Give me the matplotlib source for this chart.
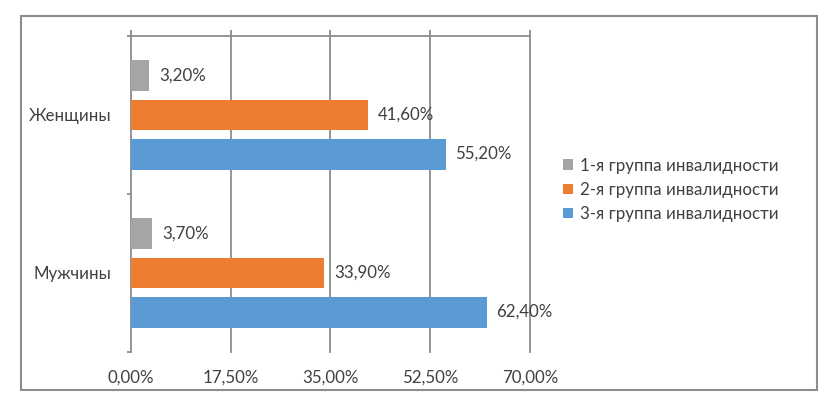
import matplotlib
matplotlib.use("Agg")
import matplotlib.pyplot as plt
from matplotlib.patches import Rectangle

categories = ["Мужчины", "Женщины"]
series_names = ["1-я группа инвалидности", "2-я группа инвалидности", "3-я группа инвалидности"]
group1 = [3.7, 3.2]
group2 = [33.9, 41.6]
group3 = [62.4, 55.2]
xticks = [0, 17.5, 35, 52.5, 70]

colours = ["#A5A5A5", "#ED7D31", "#5B9BD5"]
textcol = "#404040"
gridcol = "#8C8C8C"

plt.rcParams["font.family"] = ["Lato", "DejaVu Sans"]
plt.rcParams["font.size"] = 12.2

W, H = 828, 398
fig = plt.figure(figsize=(W / 100, H / 100), dpi=100)
ax = fig.add_axes([131 / W, 1 - 352 / H, (530 - 131) / W, (352 - 36) / H])

# outer border
fig.patches.append(Rectangle((21 / W, 1 - 390 / H), (817 - 21) / W, (390 - 16) / H,
                             transform=fig.transFigure, fill=False,
                             edgecolor="#8C8C8C", linewidth=1.5))

barh = 0.196
step = 0.247
offsets = [step, 0, -step]
ys = list(range(len(categories)))
for vals, off, col, name in zip([group1, group2, group3], offsets, colours, series_names):
    pos = [y + off for y in ys]
    ax.barh(pos, vals, height=barh, color=col, label=name, zorder=3)
    for y, v in zip(pos, vals):
        ax.annotate(f"{v:.2f}%".replace(".", ","), (v, y), xytext=(7, 0),
                    textcoords="offset points", va="center", ha="left", color=textcol)

ax.set_xlim(0, 70)
ax.set_ylim(-0.5, 1.5)

for x in xticks[1:]:
    ax.axvline(x, color=gridcol, linewidth=1.3, zorder=1, clip_on=False)

for s in ["right", "bottom"]:
    ax.spines[s].set_visible(False)
ax.spines["left"].set_color(gridcol)
ax.spines["left"].set_linewidth(1.3)
ax.spines["top"].set_color(gridcol)
ax.spines["top"].set_linewidth(1.3)

ax.set_xticks(xticks)
ax.set_xticklabels([f"{t:.2f}%".replace(".", ",") for t in xticks])
ax.tick_params(axis="x", top=True, bottom=False, labeltop=False, labelbottom=True,
               direction="out", length=4.5, width=1.3, color=gridcol, pad=8,
               labelcolor=textcol)

ax.set_yticks(ys)
ax.set_yticklabels(categories)
ax.set_yticks([-0.5, 0.5, 1.5], minor=True)
ax.tick_params(axis="y", which="major", length=0, pad=14, labelcolor=textcol)
ax.tick_params(axis="y", which="minor", length=3, width=1.3, color=gridcol)

fig.legend(loc="upper left", bbox_to_anchor=(556 / W, 1 - 151 / H),
           frameon=False, handlelength=0.6, handleheight=0.6,
           handletextpad=0.4, labelspacing=0.48, borderaxespad=0,
           fontsize=12.2, labelcolor=textcol)

fig.savefig("out.png", dpi=100)
